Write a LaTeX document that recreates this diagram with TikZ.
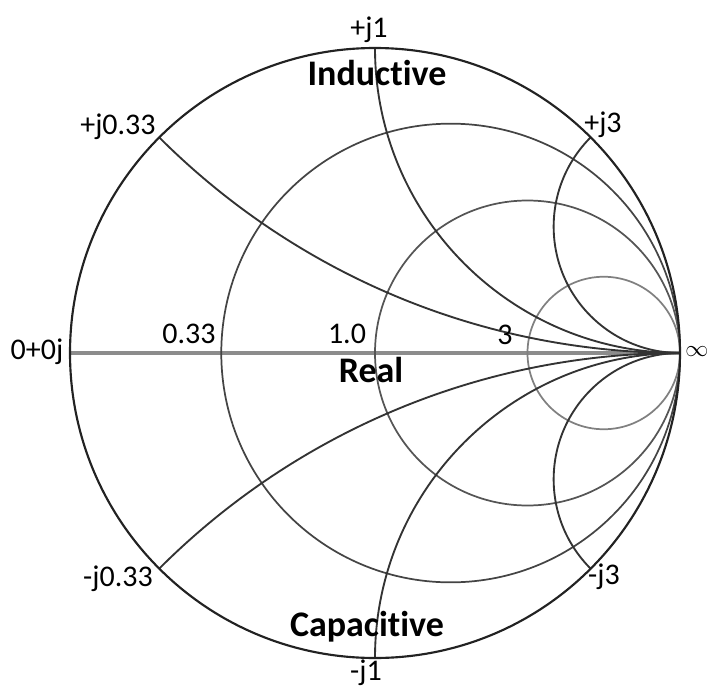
\documentclass[tikz,border=0pt]{standalone}
\usepackage{fontspec}
\setmainfont{Carlito}[Ligatures=NoCommon,RawFeature={-liga;-clig;-calt;-dlig}]
\definecolor{Ink}{HTML}{222222}
\definecolor{Arc}{HTML}{333333}
\definecolor{ResA}{HTML}{444444}
\definecolor{ResB}{HTML}{555555}
\definecolor{ResC}{HTML}{808080}
\definecolor{Axis}{HTML}{8C8C8C}
\begin{document}
\begin{tikzpicture}[
      x=0.75pt,y=-0.75pt,
      rim/.style={draw=Ink,line width=1.6pt},
      resist/.style={line width=1.3pt},
      react/.style={draw=Arc,line width=1.4pt},
      axisline/.style={draw=Axis,line width=2.3pt},
      tick/.style={font=\fontsize{22.5}{24}\selectfont,inner sep=0pt},
      region/.style={font=\fontsize{27}{29}\selectfont\bfseries,inner sep=0pt}
    ]
      \useasboundingbox (0,0) rectangle (708,689);
      \coordinate (O) at (375,353);
      \begin{scope}[shift={(O)},x=228.75pt,y=228.75pt]
        \coordinate (open) at (-1,0);
        \coordinate (inf) at (1,0);
        \draw[axisline] (open) -- (inf);
        % constant resistance
        \draw[resist,draw=ResA] (0.248,0) circle (0.752);
        \draw[resist,draw=ResB] (0.5,0) circle (0.5);
        \draw[resist,draw=ResC] (0.75,0) circle (0.25);
        % constant reactance
        \begin{scope}
          \clip (0,0) circle (1);
          \foreach \k in {0.414,1,2.414} {
            \draw[react] (1,1/\k) circle (1/\k);
            \draw[react] (1,-1/\k) circle (1/\k);
          }
        \end{scope}
        \draw[rim] (0,0) circle (1);
      \end{scope}
      % labels
      \node[tick] (xp1) at (369,30) {+j1};
      \node[tick] (xp033) at (118,127) {+j0.33};
      \node[tick] (xp3) at (603,125) {+j3};
      \node[tick] (zero) at (37,352) {0+0j};
      \node[tick] (r033) at (189,334) {0.33};
      \node[tick] (r1) at (347,334) {1.0};
      \node[tick] (r3) at (505,335) {3};
      \node[tick,font=\fontsize{17}{18}\selectfont] (infty) at (697,352) {$\infty$};
      \node[tick] (xm033) at (118,579) {-j0.33};
      \node[tick] (xm3) at (604,577) {-j3};
      \node[tick] (xm1) at (366,673) {-j1};
      \node[region] (ind) at (377,73) {Induct\kern0pt ive};
      \node[region] (real) at (371,370) {Real};
      \node[region] (cap) at (367,627) {Capacit\kern0pt ive};
    \end{tikzpicture}
\end{document}
